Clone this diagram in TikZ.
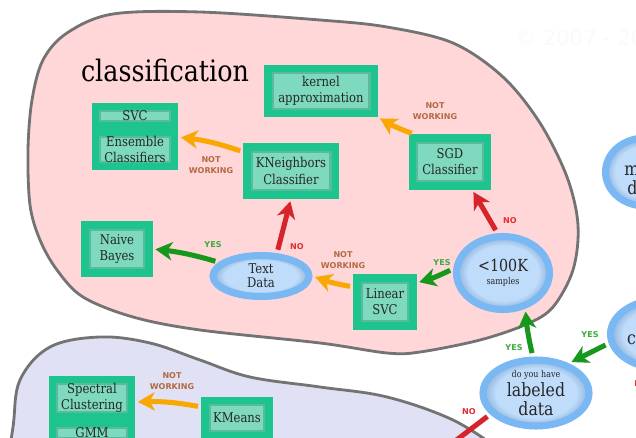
\documentclass[tikz,border=0pt]{standalone}
\usepackage{fontspec}
\setmainfont{DejaVu Serif}[FakeStretch=0.86]
\newfontfamily\tagface{DejaVu Sans}
\usetikzlibrary{shapes.geometric,arrows.meta,shadows}

\definecolor{pinkzone}{HTML}{FFD7D8}
\definecolor{lilaczone}{HTML}{E1E1F5}
\definecolor{zoneline}{HTML}{737373}
\definecolor{algoedge}{HTML}{1EC48D}
\definecolor{algofill}{HTML}{7ED9BE}
\definecolor{algoshade}{HTML}{3FA889}
\definecolor{askedge}{HTML}{7AB8F3}
\definecolor{askfill}{HTML}{BFDCFB}
\definecolor{askshade}{HTML}{8DB2D8}
\definecolor{yesgreen}{HTML}{15981B}
\definecolor{nored}{HTML}{D7242A}
\definecolor{notorange}{HTML}{F8A800}
\definecolor{yestext}{HTML}{3CAA3C}
\definecolor{notext}{HTML}{E22C31}
\definecolor{nwtext}{HTML}{B26A42}

\newcommand\algosize{\fontsize{9.6}{11.5}\selectfont}
\newcommand\askbig{\fontsize{13}{13.5}\selectfont}
\newcommand\askmid{\fontsize{11.8}{13}\selectfont}
\newcommand\asksmall{\fontsize{6.6}{8}\selectfont}
\newcommand\tagsize{\tagface\bfseries\fontsize{5.7}{7.6}\selectfont}
\newcommand\marksize{\tagface\fontsize{15}{18}\selectfont}

\pgfdeclareradialshading{askglow}{\pgfpoint{0bp}{0bp}}{color(0bp)=(askfill); color(19bp)=(askfill); color(25bp)=(askshade); color(50bp)=(askshade)}

\tikzset{
  zone/.style={draw=zoneline, line width=2pt},
  algo/.style={rectangle, draw=algoedge, fill=algofill, line width=5pt, inner sep=1pt,
    align=center, font=\algosize, text=black!85,
    drop shadow={shadow xshift=0.8pt, shadow yshift=-0.8pt, opacity=0.3},
    path picture={\draw[algoshade, line width=8pt, opacity=0.6]
      (path picture bounding box.south west) rectangle (path picture bounding box.north east);}},
  ask/.style={ellipse, draw=askedge, shade, shading=askglow, line width=5pt, inner sep=0pt,
    align=center, text=black!85,
    drop shadow={shadow xshift=0.8pt, shadow yshift=-0.8pt, opacity=0.3}},
  flow/.style={line width=3.6pt, -{Stealth[length=12pt,width=13pt,inset=3.5pt]},
    shorten <=2.5pt, shorten >=2pt},
  yesflow/.style={flow, draw=yesgreen},
  noflow/.style={flow, draw=nored},
  nwflow/.style={flow, draw=notorange},
  yestag/.style={font=\tagsize, text=yestext},
  notag/.style={font=\tagsize, text=notext},
  nwtag/.style={font=\tagsize, text=nwtext, align=center}
}

\begin{document}
\begin{tikzpicture}[x=0.025cm, y=-0.025cm]
  \useasboundingbox (0,0) rectangle (636,438);
  \clip (0,0) rectangle (636,438);
  \fill[white] (0,0) rectangle (636,438);
  \node[font=\marksize, text=black!2, anchor=base west] (mark) at (510,46) {\textcopyright\ 2007 - 2019};

  \draw[zone, fill=lilaczone] plot[smooth, tension=0.6] coordinates {(5,480) (13,427) (20,380) (50,347) (100,337)
    (150,343) (200,360) (250,377) (320,387) (387,397) (453,420) (500,450)} -- (600,500) -- (0,500) -- cycle;
  \draw[zone, fill=pinkzone] plot[smooth cycle, tension=0.55] coordinates {(30,205) (28,150) (32,100) (43,60)
    (67,33) (113,14) (200,12) (320,20) (387,27) (453,43) (503,77) (540,123) (567,177) (578,225) (573,270)
    (553,307) (527,324) (480,340) (420,352) (387,353) (320,343) (200,330) (133,317) (83,297) (57,270) (40,240)};

  \node[font=\fontsize{21}{24}\selectfont, anchor=base] (cls) at (165,82) {classification};

  \node[algo, minimum width=2.65cm, minimum height=1.125cm] (kern) at (321,91) {kernel\\approximation};
  \node[algo, minimum width=1.975cm, minimum height=0.475cm] (svc) at (135,116) {SVC};
  \node[algo, minimum width=1.975cm, minimum height=0.85cm] (ens) at (135,149.5) {Ensemble\\Classifiers};
  \node[algo, minimum width=2.2cm, minimum height=1.2cm] (kn) at (291,171) {KNeighbors\\Classifier};
  \node[algo, minimum width=1.875cm, minimum height=1.2cm] (sgd) at (450,162) {SGD\\Classifier};
  \node[algo, minimum width=1.6cm, minimum height=1.2cm] (nb) at (117,249) {Naive\\Bayes};
  \node[algo, minimum width=1.4cm, minimum height=1.2cm] (lsvc) at (385,302) {Linear\\SVC};
  \node[algo, minimum width=1.6cm, minimum height=0.875cm] (km) at (237,418) {KMeans};
  \node[algo, minimum width=1.975cm, minimum height=0.925cm] (spec) at (92,398) {Spectral\\Clustering};
  \node[algo, minimum width=1.975cm, minimum height=0.475cm] (gmm) at (92,433) {GMM};

  \node[ask, minimum width=2.4cm, minimum height=1.025cm, font=\fontsize{9.6}{10}\selectfont] (td) at (261,276) {Text\\Data};
  \node[ask, minimum width=2.325cm, minimum height=1.825cm, font=\askmid] (hk) at (503,273) {<100K\\[-3.8pt]{\asksmall samples}};
  \node[ask, minimum width=2.65cm, minimum height=1.65cm, font=\askbig] (ld) at (536,393) {{\asksmall do you have}\\labeled\\data};
  \node[ask, minimum width=2.575cm, minimum height=1.725cm, font=\askbig] (pred) at (662,334) {{\asksmall predicting a}\\category};
  \node[ask, minimum width=1.975cm, minimum height=1.7cm, font=\askbig] (more) at (645,172) {{\asksmall get}\\more\\data};
  \coordinate (down) at (446,448);

  \draw[noflow] (hk.98) -- ([xshift=0.55cm]sgd.south);
  \draw[nwflow] ([xshift=0.15cm]sgd.north west) to[bend left=5] (kern.south east);
  \draw[noflow] (td.55) -- (kn.south);
  \draw[nwflow] ([yshift=0.475cm]kn.west) to[bend right=6] ([yshift=0.31cm]ens.east);
  \draw[yesflow] (td.162) to[bend right=5] (nb.east);
  \draw[nwflow] ([yshift=0.375cm]lsvc.west) to[bend left=5] (td.east);
  \draw[yesflow] (hk.175) to[bend left=5] ([yshift=0.475cm]lsvc.east);
  \draw[yesflow] (ld.95) to[bend left=4] (hk.-58);
  \draw[yesflow] (pred.190) -- (ld.42);
  \draw[noflow, shorten >=0pt, -] (ld.205) -- (down);
  \draw[nwflow] ([yshift=0.275cm]km.west) to[bend right=6] ([yshift=-0.1cm]spec.east);

  \node[notag] (noA) at (510,221) {NO};
  \node[nwtag] (nwA) at (435,111) {NOT\\WORKING};
  \node[notag] (noB) at (297,247) {NO};
  \node[nwtag] (nwB) at (211,165) {NOT\\WORKING};
  \node[yestag] (yesA) at (213,245) {YES};
  \node[nwtag] (nwC) at (343,260) {NOT\\WORKING};
  \node[yestag] (yesB) at (442,263) {YES};
  \node[yestag] (yesC) at (514,348) {YES};
  \node[yestag] (yesD) at (590,335) {YES};
  \node[notag] (noC) at (469,412) {NO};
  \node[nwtag] (nwD) at (172,381) {NOT\\WORKING};
  \node[notag] (noD) at (641,384) {NO};
\end{tikzpicture}
\end{document}
